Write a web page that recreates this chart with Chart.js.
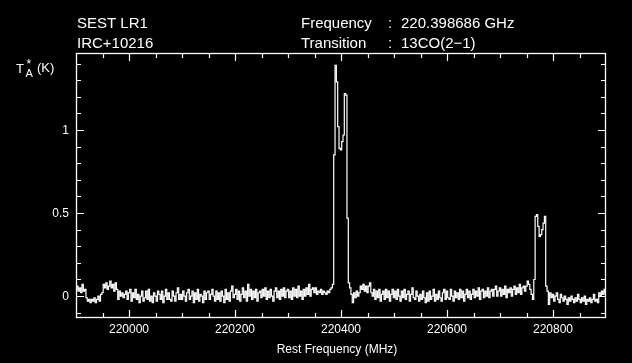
<!DOCTYPE html>
<html>
<head>
<meta charset="utf-8">
<script src="https://cdn.jsdelivr.net/npm/chart.js@4.4.1/dist/chart.umd.min.js"></script>
<style>
  html, body { margin: 0; padding: 0; background: #000; }
  #wrap { width: 632px; height: 363px; }
</style>
</head>
<body>
<div id="wrap"><canvas id="spectrum" width="632" height="363"></canvas></div>
<script>
// Channel grid of the spectrum (MHz)
const FREQ_START = 219900;
const CHANNEL_WIDTH = 2.5;

// Antenna temperature T*A (K), one value per channel, 50 MHz per row
const antennaTemp = [
  0.04, 0.06, 0.03, 0.05, 0.02, 0.07, 0.03, 0.04, -0.01, -0.03, -0.02, -0.04, -0.02, -0.03, -0.01, -0.04, -0.02, 0.00, -0.03, 0.01,
  0.02, 0.07, 0.05, 0.08, 0.04, 0.06, 0.09, 0.05, 0.07, 0.03, 0.08, 0.04, -0.02, 0.03, 0.00, 0.02, -0.01, 0.01, 0.03, -0.02,
  0.02, 0.04, -0.03, 0.02, -0.01, 0.04, -0.02, 0.01, -0.04, 0.00, 0.03, -0.03, -0.01, 0.03, -0.02, 0.04, -0.03, 0.00, -0.04, 0.02,
  0.00, -0.03, 0.03, 0.01, -0.02, 0.03, -0.04, 0.00, 0.04, -0.02, 0.02, -0.02, -0.03, 0.03, 0.00, -0.03, 0.02, 0.05, -0.02, 0.01,
  -0.02, 0.03, 0.00, -0.03, 0.02, 0.04, -0.02, 0.00, 0.03, -0.04, 0.02, -0.02, 0.04, -0.03, 0.01, 0.00, -0.04, 0.03, -0.02, 0.02,
  0.03, -0.02, 0.01, 0.04, 0.00, -0.03, 0.03, -0.02, 0.02, -0.03, 0.03, 0.00, -0.04, 0.04, -0.02, 0.02, -0.03, 0.03, 0.06, -0.01,
  0.01, 0.04, -0.02, 0.03, -0.03, 0.01, 0.05, -0.01, 0.03, -0.03, 0.07, 0.00, 0.04, -0.02, 0.03, -0.01, 0.04, -0.03, 0.02, 0.03,
  -0.01, 0.04, 0.00, 0.05, -0.02, 0.03, -0.01, 0.04, 0.00, -0.03, 0.03, 0.05, -0.01, 0.03, -0.02, 0.04, 0.00, 0.05, -0.01, 0.03,
  0.04, -0.01, 0.03, -0.02, 0.05, 0.00, 0.04, -0.01, 0.06, 0.00, 0.03, -0.02, 0.04, 0.00, 0.05, 0.01, 0.07, 0.00, 0.04, 0.05,
  0.02, 0.05, 0.01, 0.03, 0.02, 0.04, 0.01, 0.03, 0.02, 0.01, 0.03, 0.02, 0.04, 0.05, 0.07, 0.85, 1.39, 1.29, 1.02, 0.89,
  0.88, 0.93, 0.97, 1.22, 1.21, 0.47, 0.08, 0.05, 0.01, -0.04, 0.02, -0.01, 0.03, 0.00, 0.02, 0.06, 0.04, 0.07, 0.03, 0.06,
  0.02, 0.06, 0.08, 0.02, 0.00, 0.04, -0.02, 0.03, -0.01, 0.04, -0.03, 0.01, 0.03, -0.02, 0.04, -0.01, 0.03, -0.03, 0.01, 0.04,
  -0.01, 0.03, -0.02, 0.04, 0.00, -0.03, 0.03, -0.01, 0.04, -0.02, 0.01, 0.03, -0.03, 0.01, 0.05, -0.01, -0.02, 0.03, 0.00, -0.03,
  0.01, -0.02, 0.03, -0.01, -0.04, 0.02, -0.03, 0.03, -0.02, 0.00, 0.04, -0.03, 0.01, -0.02, 0.03, -0.01, -0.03, 0.02, 0.04, -0.02,
  0.03, -0.01, -0.02, 0.04, 0.00, -0.03, 0.03, -0.01, 0.02, -0.02, 0.04, -0.01, 0.03, -0.03, 0.01, 0.04, -0.01, 0.03, -0.02, 0.01,
  0.04, -0.01, 0.03, 0.00, 0.05, -0.02, 0.03, 0.04, -0.01, 0.03, 0.00, 0.05, -0.01, 0.03, 0.04, 0.00, 0.04, 0.06, 0.00, 0.03,
  0.05, 0.00, 0.04, 0.01, 0.06, -0.01, 0.04, 0.02, 0.05, 0.00, 0.04, 0.06, 0.01, 0.05, 0.02, 0.07, 0.01, 0.05, 0.06, 0.03,
  0.06, 0.09, 0.07, 0.04, 0.01, -0.02, 0.10, 0.48, 0.49, 0.42, 0.36, 0.37, 0.40, 0.44, 0.48, 0.06, 0.03, -0.05, 0.02, -0.01,
  0.01, -0.03, 0.00, 0.02, -0.02, -0.04, 0.01, -0.01, -0.03, 0.00, -0.02, -0.05, -0.01, -0.03, 0.00, -0.02, -0.04, -0.01, -0.03, 0.01,
  -0.02, -0.04, -0.01, -0.03, 0.00, -0.05, -0.02, -0.03, -0.01, -0.04, -0.02, 0.01, -0.03, -0.02, -0.04, 0.02, 0.00, 0.03, 0.01, 0.04,
  0.02
];

// Axis ranges and labelled ticks
const xRange = [219900, 220900];
const yRange = [-0.132, 1.464];
const xMajorTicks = [220000, 220200, 220400, 220600, 220800];
const xTickLabels = ['220000', '220200', '220400', '220600', '220800'];
const yMajorTicks = [0, 0.5, 1];
const yTickLabels = ['0', '0.5', '1'];

const headerLeft = ['SEST LR1', 'IRC+10216'];
const headerKeys = ['Frequency', 'Transition'];
const headerValues = ['220.398686 GHz', '13CO(2\u22121)'];

const points = antennaTemp.map((t, i) => ({ x: FREQ_START + i * CHANNEL_WIDTH, y: t }));

const FONT = '"Liberation Sans", Arial, sans-serif';

// Draws the PGPLOT style frame: box, inward ticks on all sides, labels
const framePlugin = {
  id: 'frame',
  afterDraw(chart) {
    const ctx = chart.ctx;
    const { left, right, top, bottom } = chart.chartArea;
    const xs = chart.scales.x;
    const ys = chart.scales.y;

    ctx.save();
    ctx.strokeStyle = '#fff';
    ctx.fillStyle = '#fff';
    ctx.lineWidth = 1.3;
    ctx.strokeRect(left + 0.5, top + 0.5, right - left - 1, bottom - top - 1);

    ctx.beginPath();
    for (let f = xRange[0] + 50; f < xRange[1]; f += 50) {
      const px = Math.round(xs.getPixelForValue(f)) + 0.5;
      const len = xMajorTicks.includes(f) ? 8 : 5;
      ctx.moveTo(px, bottom); ctx.lineTo(px, bottom - len);
      ctx.moveTo(px, top); ctx.lineTo(px, top + len);
    }
    for (let k = -1; k <= 14; k++) {
      const py = Math.round(ys.getPixelForValue(k / 10)) + 0.5;
      const len = k % 5 === 0 ? 8 : 5;
      ctx.moveTo(left, py); ctx.lineTo(left + len, py);
      ctx.moveTo(right, py); ctx.lineTo(right - len, py);
    }
    ctx.lineWidth = 1.2;
    ctx.stroke();

    // tick labels
    ctx.font = '12px ' + FONT;
    ctx.textAlign = 'center';
    ctx.textBaseline = 'alphabetic';
    xMajorTicks.forEach((f, i) => {
      ctx.fillText(xTickLabels[i], xs.getPixelForValue(f), 333);
    });
    ctx.textAlign = 'right';
    ctx.textBaseline = 'middle';
    yMajorTicks.forEach((v, i) => {
      ctx.fillText(yTickLabels[i], 69, ys.getPixelForValue(v) + 1);
    });

    // axis titles
    ctx.textAlign = 'center';
    ctx.textBaseline = 'alphabetic';
    ctx.fillText('Rest Frequency (MHz)', 337, 353);

    ctx.textAlign = 'left';
    ctx.font = '13px ' + FONT;
    ctx.fillText('T', 16, 73);
    ctx.font = '11px ' + FONT;
    ctx.fillText('A', 25.5, 77);
    ctx.font = '12px ' + FONT;
    ctx.fillText('*', 26.5, 68);
    ctx.font = '13px ' + FONT;
    ctx.fillText('(K)', 37, 72);

    // header
    ctx.font = '15px ' + FONT;
    headerLeft.forEach((s, i) => ctx.fillText(s, 77, 28 + i * 20));
    headerKeys.forEach((s, i) => {
      ctx.fillText(s, 301, 28 + i * 20);
      ctx.fillText(':', 388, 28 + i * 20);
      ctx.fillText(headerValues[i], 401, 28 + i * 20);
    });
    ctx.restore();
  }
};

new Chart(document.getElementById('spectrum').getContext('2d'), {
  type: 'line',
  data: {
    datasets: [{
      data: points,
      borderColor: '#ffffff',
      borderWidth: 1.2,
      pointRadius: 0,
      stepped: 'middle',
      fill: false
    }]
  },
  options: {
    responsive: false,
    animation: false,
    layout: { padding: { left: 76, top: 53, right: 26, bottom: 45 } },
    scales: {
      x: { type: 'linear', min: xRange[0], max: xRange[1], display: false },
      y: { type: 'linear', min: yRange[0], max: yRange[1], display: false }
    },
    plugins: {
      legend: { display: false },
      tooltip: { enabled: false }
    }
  },
  plugins: [framePlugin]
});
</script>
</body>
</html>
